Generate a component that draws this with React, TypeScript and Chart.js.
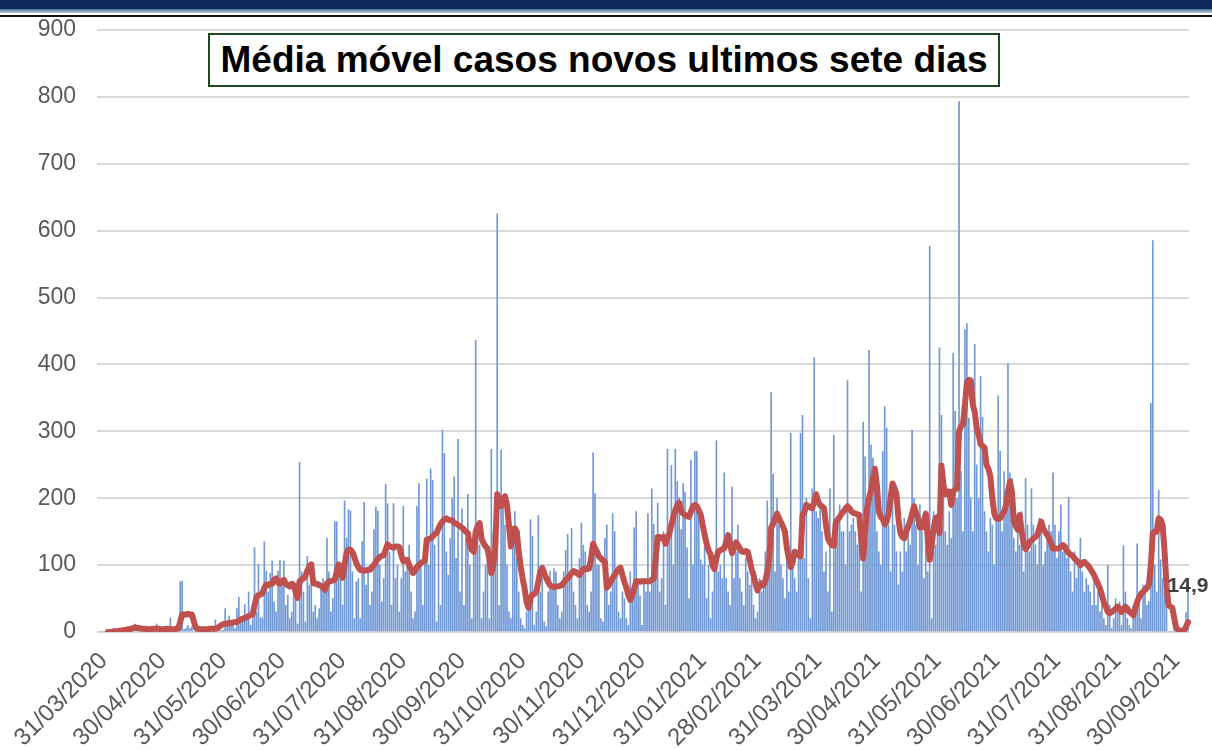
import React, { useEffect, useRef } from 'react';
import { Chart, registerables } from 'chart.js';

Chart.register(...registerables);

// ---- data ----
const START_DAY = { year: 2020, month: 3, day: 28 }; // first category: 28/03/2020
const DAY_COUNT = 558; // up to 06/10/2021

const TICK_LABELS = [
  '31/03/2020', '30/04/2020', '31/05/2020', '30/06/2020', '31/07/2020', '31/08/2020',
  '30/09/2020', '31/10/2020', '30/11/2020', '31/12/2020', '31/01/2021', '28/02/2021',
  '31/03/2021', '30/04/2021', '31/05/2021', '30/06/2021', '31/07/2021', '31/08/2021',
  '30/09/2021',
];

const DAILY_CASES = [
  0, 0, 0, 0, 0, 0, 0,
  0, 0, 2, 1, 3, 2, 4,
  0, 1, 5, 6, 8, 12, 6,
  0, 0, 6, 5, 8, 7, 4,
  1, 0, 12, 5, 6, 4, 7,
  0, 0, 21, 4, 6, 3, 5,
  75, 76, 4, 6, 10, 5, 8,
  0, 1, 6, 4, 8, 5, 6,
  0, 1, 7, 5, 18, 4, 6,
  2, 3, 35, 15, 24, 12, 10,
  5, 35, 52, 14, 20, 41, 18,
  60, 10, 20, 126, 30, 101, 21,
  21, 135, 91, 60, 88, 106, 45,
  30, 91, 107, 70, 106, 40, 55,
  20, 30, 75, 66, 12, 254, 90,
  60, 15, 113, 70, 95, 30, 40,
  20, 35, 70, 80, 75, 140, 90,
  30, 50, 165, 165, 90, 80, 40,
  196, 140, 183, 181, 90, 20, 75,
  80, 20, 135, 194, 70, 90, 40,
  60, 153, 187, 181, 100, 45, 80,
  221, 192, 120, 40, 192, 80, 100,
  30, 80, 188, 90, 100, 130, 60,
  20, 30, 188, 222, 100, 40, 140,
  229, 100, 244, 227, 130, 15, 150,
  40, 302, 267, 120, 85, 140, 200,
  232, 110, 288, 60, 184, 40, 140,
  206, 100, 20, 120, 436, 150, 130,
  20, 60, 100, 110, 20, 273, 150,
  120, 625, 40, 272, 190, 160, 100,
  30, 20, 150, 180, 110, 60, 20,
  10, 5, 30, 40, 168, 143, 10,
  30, 174, 60, 80, 15, 8, 60,
  90, 70, 95, 90, 40, 20, 30,
  90, 122, 146, 90, 155, 60, 40,
  20, 110, 163, 130, 120, 40, 30,
  60, 268, 207, 100, 100, 20, 15,
  140, 160, 40, 60, 177, 150, 90,
  30, 20, 60, 50, 20, 10, 90,
  60, 156, 180, 70, 54, 10, 80,
  60, 177, 60, 214, 161, 90, 193,
  60, 80, 150, 40, 273, 161, 249,
  100, 273, 225, 201, 153, 222, 209,
  126, 50, 257, 100, 270, 270, 174,
  108, 100, 130, 50, 100, 20, 60,
  100, 286, 90, 100, 80, 238, 80,
  60, 40, 217, 80, 120, 160, 80,
  60, 40, 110, 90, 70, 80, 40,
  20, 30, 80, 60, 70, 120, 196,
  100, 358, 236, 90, 200, 160, 100,
  80, 50, 150, 60, 297, 110, 80,
  60, 120, 297, 324, 110, 200, 80,
  20, 214, 410, 180, 170, 190, 150,
  90, 120, 60, 214, 30, 294, 130,
  160, 190, 150, 150, 100, 376, 150,
  160, 170, 150, 130, 170, 60, 314,
  262, 140, 421, 280, 260, 240, 150,
  120, 100, 270, 337, 305, 160, 90,
  200, 160, 120, 70, 120, 90, 170,
  120, 160, 130, 302, 200, 160, 100,
  190, 150, 80, 140, 90, 577, 20,
  180, 130, 170, 425, 324, 220, 150,
  130, 180, 140, 417, 330, 200, 793,
  240, 150, 452, 461, 320, 200, 150,
  430, 250, 200, 382, 321, 180, 150,
  120, 170, 160, 100, 180, 353, 270,
  150, 240, 200, 401, 238, 230, 140,
  120, 170, 130, 180, 90, 230, 160,
  120, 214, 160, 130, 100, 170, 150,
  100, 120, 150, 160, 150, 238, 160,
  110, 150, 190, 120, 130, 110, 201,
  90, 60, 120, 80, 100, 140, 90,
  60, 80, 70, 60, 40, 90, 40,
  60, 30, 40, 20, 10, 100, 40,
  5, 20, 50, 30, 45, 10, 129,
  60, 20, 10, 5, 40, 30, 132,
  50, 20, 70, 70, 40, 45, 342,
  585, 100, 60, 212, 108, 80, 60,
  40, 0, 0, 0, 5, 0, 0,
  0, 0, 0, 29, 75,
];

const MOVING_AVG = [
  null, null, null, null, null, 0, 0, 0, 1, 1,
  1, 2, 2, 3, 3, 4, 4, 5, 6, 7,
  6, 6, 5, 5, 5, 4, 4, 4, 5, 5,
  5, 5, 4, 4, 4, 5, 5, 4, 4, 4,
  5, 5, 15, 26, 26, 26, 27, 26, 26, 16,
  6, 5, 4, 4, 4, 4, 4, 5, 5, 5,
  5, 6, 8, 10, 12, 12, 13, 13, 14, 14,
  15, 15, 17, 19, 20, 21, 22, 24, 25, 26,
  40, 52, 55, 56, 58, 66, 71, 70, 72, 72,
  78, 80, 74, 72, 76, 78, 72, 70, 68, 72,
  70, 60, 51, 76, 78, 80, 84, 92, 98, 101,
  73, 72, 72, 70, 69, 66, 63, 72, 76, 76,
  77, 78, 90, 101, 88, 81, 100, 118, 123, 123,
  120, 112, 103, 97, 93, 92, 92, 92, 93, 93,
  97, 100, 105, 109, 112, 114, 115, 123, 131, 128,
  127, 126, 128, 128, 127, 115, 106, 107, 108, 100,
  94, 88, 92, 97, 100, 103, 105, 106, 138, 139,
  140, 143, 146, 148, 155, 161, 165, 168, 170, 168,
  167, 167, 163, 162, 160, 158, 156, 153, 150, 148,
  130, 123, 120, 150, 158, 163, 140, 133, 128, 125,
  110, 88, 100, 125, 206, 195, 188, 198, 203, 190,
  160, 128, 153, 155, 150, 120, 98, 80, 65, 45,
  36, 50, 56, 57, 60, 75, 90, 96, 88, 81,
  75, 70, 68, 67, 68, 68, 69, 70, 74, 78,
  80, 84, 88, 91, 90, 87, 85, 90, 94, 95,
  94, 95, 110, 132, 125, 120, 113, 110, 107, 105,
  66, 70, 75, 81, 85, 90, 94, 96, 85, 75,
  66, 55, 48, 55, 65, 76, 76, 75, 76, 76,
  76, 76, 76, 78, 80, 110, 142, 142, 140, 142,
  132, 140, 148, 160, 172, 182, 190, 193, 180, 177,
  175, 173, 172, 180, 188, 190, 188, 182, 175, 160,
  145, 132, 122, 116, 100, 94, 110, 121, 122, 124,
  125, 135, 145, 130, 118, 125, 134, 130, 125, 120,
  120, 121, 120, 108, 94, 85, 72, 62, 68, 73,
  70, 76, 90, 108, 156, 162, 170, 177, 170, 164,
  158, 150, 126, 110, 97, 105, 120, 118, 115, 113,
  174, 180, 190, 188, 186, 185, 195, 206, 195, 190,
  188, 185, 160, 140, 134, 130, 129, 164, 168, 172,
  177, 180, 185, 188, 185, 180, 178, 177, 176, 175,
  140, 110, 150, 185, 200, 212, 230, 244, 220, 180,
  172, 169, 161, 165, 177, 200, 222, 215, 206, 170,
  148, 142, 140, 150, 158, 166, 177, 188, 178, 170,
  156, 156, 165, 177, 140, 108, 130, 155, 170, 172,
  148, 249, 220, 206, 210, 210, 190, 210, 213, 215,
  300, 308, 310, 340, 372, 377, 376, 340, 329, 305,
  295, 281, 278, 276, 250, 244, 233, 200, 177, 170,
  169, 170, 175, 180, 190, 210, 225, 210, 166, 158,
  153, 175, 150, 132, 124, 128, 135, 137, 140, 142,
  145, 155, 165, 155, 150, 145, 140, 133, 125, 125,
  125, 125, 127, 130, 128, 122, 118, 116, 114, 110,
  107, 104, 100, 103, 105, 102, 99, 95, 90, 85,
  78, 72, 65, 55, 44, 38, 30, 28, 30, 32,
  35, 38, 35, 30, 34, 38, 35, 30, 28, 25,
  35, 45, 52, 57, 60, 63, 66, 70, 100, 148,
  150, 150, 170, 168, 160, 121, 70, 40, 38, 36,
  20, 6, 3, 2, 2, 3, 8, 14.9,
];

const LAST_VALUE_LABEL = '14,9';
const TITLE_TEXT = 'Média móvel casos novos ultimos sete dias';

// ---- helpers ----
const pad2 = (n: number) => (n < 10 ? '0' + n : '' + n);

function buildCategories(): string[] {
  const out: string[] = [];
  for (let k = 0; k < DAY_COUNT; k++) {
    const d = new Date(Date.UTC(START_DAY.year, START_DAY.month - 1, START_DAY.day + k));
    out.push(`${pad2(d.getUTCDate())}/${pad2(d.getUTCMonth() + 1)}/${d.getUTCFullYear()}`);
  }
  return out;
}

const FONT = '"Liberation Sans", Arial, sans-serif';

const decorPlugin = {
  id: 'decor',
  beforeDraw(chart: any) {
    const { ctx, width } = chart;
    ctx.save();
    ctx.fillStyle = '#ffffff';
    ctx.fillRect(0, 0, width, chart.height);
    // top banner
    ctx.fillStyle = '#0b2a58';
    ctx.fillRect(0, 0, width, 9);
    const g = ctx.createLinearGradient(0, 9, 0, 13);
    g.addColorStop(0, '#4f73a0');
    g.addColorStop(1, '#b9cadf');
    ctx.fillStyle = g;
    ctx.fillRect(0, 9, width, 4);
    ctx.fillStyle = '#111111';
    ctx.fillRect(0, 15, width, 2);
    ctx.restore();
  },
  afterDatasetsDraw(chart: any) {
    const meta = chart.getDatasetMeta(0);
    const pt = meta.data[meta.data.length - 1];
    if (!pt) return;
    const { ctx } = chart;
    ctx.save();
    ctx.font = `bold 21px ${FONT}`;
    ctx.fillStyle = '#404040';
    ctx.textAlign = 'center';
    ctx.textBaseline = 'middle';
    ctx.fillText(LAST_VALUE_LABEL, pt.x, pt.y - 36);
    ctx.restore();
  },
};

export default function App() {
  const canvasRef = useRef<HTMLCanvasElement | null>(null);

  useEffect(() => {
    const canvas = canvasRef.current;
    if (!canvas) return;
    const categories = buildCategories();
    const tickIdx = new Set(TICK_LABELS.map((t) => categories.indexOf(t)).filter((i) => i >= 0));

    const chart = new Chart(canvas, {
      type: 'bar',
      data: {
        labels: categories,
        datasets: [
          {
            type: 'line',
            data: MOVING_AVG as any,
            borderColor: '#c0504d',
            borderWidth: 6,
            pointRadius: 0,
            tension: 0,
            borderCapStyle: 'round',
            borderJoinStyle: 'round',
            order: 0,
          } as any,
          {
            type: 'bar',
            data: DAILY_CASES,
            backgroundColor: 'rgb(112,153,214)',
            barThickness: 1,
            order: 1,
          } as any,
        ],
      },
      options: {
        animation: false,
        responsive: false,
        maintainAspectRatio: false,
        devicePixelRatio: 1,
        layout: { padding: { top: 30, right: 23, left: 0, bottom: 0 } },
        plugins: {
          legend: { display: false },
          tooltip: { enabled: false },
          title: { display: false },
        },
        scales: {
          x: {
            offset: true,
            grid: { display: false },
            border: { display: false },
            ticks: {
              autoSkip: false,
              minRotation: 45,
              maxRotation: 45,
              padding: 7,
              color: '#595959',
              font: { family: FONT, size: 24 },
              callback: function (this: any, v: any) {
                return this.getLabelForValue(v);
              },
            },
            afterBuildTicks: (axis: any) => {
              axis.ticks = axis.ticks.filter((t: any) => tickIdx.has(t.value));
            },
            afterFit: (axis: any) => {
              axis.height = 118;
            },
          } as any,
          y: {
            min: 0,
            max: 900,
            grid: { color: '#d9d9d9', lineWidth: 2, drawTicks: false },
            border: { display: false },
            ticks: {
              stepSize: 100,
              padding: 21,
              color: '#595959',
              font: { family: FONT, size: 23 },
            },
            afterFit: (axis: any) => {
              axis.width = 97;
              axis.paddingTop = 12;
              axis.paddingBottom = 12;
            },
          } as any,
        },
      },
      plugins: [decorPlugin],
    });
    return () => chart.destroy();
  }, []);

  return (
    <div style={{ position: 'absolute', left: 0, top: 0, width: 1212, height: 750, background: '#fff' }}>
      <canvas ref={canvasRef} width={1212} height={750} style={{ display: 'block' }} />
      <div
        style={{
          position: 'absolute',
          left: 208,
          top: 33,
          width: 792,
          height: 54,
          boxSizing: 'border-box',
          border: '2px solid #1f4a1f',
          background: '#ffffff',
          fontFamily: FONT,
          fontWeight: 'bold',
          fontSize: 37,
          color: '#000',
          textAlign: 'center',
          lineHeight: '50px',
          whiteSpace: 'nowrap',
        }}
      >
        {TITLE_TEXT}
      </div>
    </div>
  );
}
